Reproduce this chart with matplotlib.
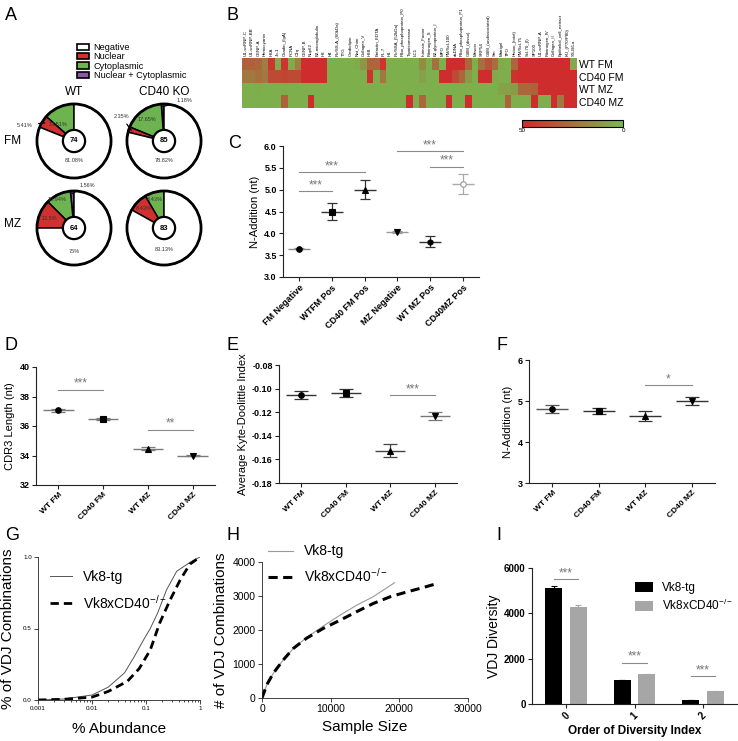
import numpy as np
import matplotlib
matplotlib.use('Agg')
import matplotlib.pyplot as plt
from matplotlib.colors import LinearSegmentedColormap
from matplotlib.patches import Patch, Circle

plt.rcParams['font.family'] = ['Liberation Sans', 'DejaVu Sans']

# ---------------- data ----------------
# A: localisation pies
pie_groups = ['WT FM', 'CD40 FM', 'WT MZ', 'CD40 MZ']
pie_n = [74, 85, 64, 83]
pct_neg = [81.08, 78.82, 75.0, 83.13]
pct_nuc = [5.41, 2.35, 12.5, 8.43]
pct_cyto = [13.51, 17.65, 10.94, 8.43]
pct_both = [0.0, 1.18, 1.56, 0.0]
loc_labels = ['Negative', 'Nuclear', 'Cytoplasmic', 'Nuclear + Cytoplasmic']

# B: heatmap
antigens = ['U1-snRNP-C', "U1-snRNP-BB'", 'CENP-A', 'Hemocyanin', 'H2A', 'Jo-1',
            'Gliadin_(IgA)', 'PCNA', 'C1q', 'CENP-B', 'Nup62', 'B2-microglobulin',
            'H3', 'H4', 'Ro/SS-A_(60kDa)', 'TTG', 'Cardiolipin', 'Nat_Chim',
            'Collagen_V', 'H2B', 'Entactin_EDTA', 'PL-7', 'H1', 'Ro/SSA_(52kDa)',
            'Ribo_phosphoprotein_P0', 'Topoisomerase', 'LC1', 'Intrinsic_Factor',
            'Fibrinogen_S', 'B2-glycoprotein_I', 'MPO', 'PM/Scl-100', 'dsDNA',
            'Ribo_phosphoprotein_P1', 'GBM_(disso)', 'Mesoin', 'SRP54',
            'GBM_(undissociated)', 'Sm', 'Matrigel', 'TPO', 'Histon_(total)',
            'PM/Scl-75', 'Scl-70_(I)', 'SP100', 'U1-snRNP-A', 'Fibrinogen_IV',
            'Collagen_II', 'Epithelial_cell_extract', 'KU_(P70/P80)', 'SS-B/La']
heat_rows = ['WT FM', 'CD40 FM', 'WT MZ', 'CD40 MZ']
wt_fm = [30, 30, 28, 20, 45, 5, 45, 5, 20, 48, 48, 48, 48, 3, 3, 3, 3, 5, 12, 28, 28, 45, 3, 3, 3,
         3, 3, 15, 3, 25, 3, 48, 48, 48, 28, 3, 25, 35, 25, 5, 3, 28, 48, 48, 48, 48, 48, 48, 48, 48, 5]
cd40_fm = [22, 22, 25, 22, 38, 38, 40, 38, 38, 48, 48, 48, 48, 3, 3, 3, 3, 3, 3, 46, 3, 22, 3, 3, 3,
           3, 3, 8, 3, 3, 48, 48, 38, 28, 10, 3, 48, 48, 5, 3, 3, 46, 48, 48, 48, 48, 48, 48, 48, 48, 48]
wt_mz = [3, 3, 4, 3, 3, 3, 4, 3, 3, 3, 3, 3, 3, 3, 3, 3, 3, 3, 3, 3, 3, 3, 3, 3, 3,
         3, 3, 3, 3, 3, 3, 3, 3, 3, 3, 3, 3, 3, 3, 8, 8, 10, 28, 28, 30, 48, 48, 48, 48, 48, 48]
cd40_mz = [3, 3, 3, 3, 3, 3, 30, 3, 3, 3, 48, 3, 3, 3, 3, 3, 3, 3, 3, 3, 3, 3, 3, 3, 3,
           48, 3, 28, 3, 3, 3, 48, 3, 3, 48, 3, 3, 3, 3, 3, 30, 3, 3, 3, 48, 3, 3, 48, 22, 48, 48]

# C: N-addition by localisation
c_cats = ['FM Negative', 'WTFM Pos', 'CD40 FM Pos', 'MZ Negative', 'WT MZ Pos', 'CD40MZ Pos']
c_mean = [3.65, 4.50, 5.00, 4.03, 3.81, 5.12]
c_err = [0.02, 0.20, 0.22, 0.02, 0.13, 0.23]
c_sig = [(0, 1, 4.97, '***'), (0, 2, 5.40, '***'), (3, 5, 5.88, '***'), (4, 5, 5.53, '***')]

# D-F
grp_cats = ['WT FM', 'CD40 FM', 'WT MZ', 'CD40 MZ']
d_mean = [37.08, 36.48, 34.45, 34.00]
d_err = [0.10, 0.06, 0.10, 0.05]
d_sig = [(0, 1, 38.45, '***'), (2, 3, 35.75, '**')]
e_mean = [-0.1055, -0.1040, -0.1525, -0.1235]
e_err = [0.0035, 0.0035, 0.0055, 0.0035]
e_sig = [(2, 3, -0.1055, '***')]
f_mean = [4.80, 4.76, 4.63, 5.00]
f_err = [0.10, 0.07, 0.12, 0.09]
f_sig = [(2, 3, 5.38, '*')]

# G: cumulative abundance
g_x_tg = [0.001, 0.003, 0.01, 0.02, 0.04, 0.06, 0.09, 0.1, 0.12, 0.165, 0.24, 0.37, 0.7, 1.0]
g_y_tg = [0.0, 0.007, 0.035, 0.09, 0.19, 0.30, 0.42, 0.45, 0.50, 0.61, 0.77, 0.90, 0.97, 1.0]
g_x_ko = [0.001, 0.003, 0.01, 0.02, 0.045, 0.075, 0.12, 0.18, 0.28, 0.43, 0.65, 1.0]
g_y_ko = [0.0, 0.005, 0.02, 0.06, 0.13, 0.22, 0.35, 0.54, 0.70, 0.84, 0.95, 1.0]

# H: rarefaction
h_x_tg = [0, 700, 1650, 3100, 4570, 6500, 8950, 11400, 13800, 16200, 19300]
h_y_tg = [0, 390, 730, 1120, 1460, 1780, 2120, 2440, 2730, 2980, 3390]
h_x_ko = [0, 700, 1650, 3100, 4570, 6500, 8950, 11400, 13800, 16200, 18700, 21100, 23500, 25200]
h_y_ko = [0, 390, 730, 1120, 1460, 1760, 2050, 2290, 2540, 2780, 2980, 3120, 3250, 3350]

# I: diversity
div_order = ['0', '1', '2']
div_tg = [5120, 1060, 190]
div_tg_err = [100, 0, 0]
div_ko = [4300, 1330, 570]
div_ko_err = [70, 15, 0]
div_sig = [5500, 1820, 1235]

series = ['Vk8-tg', r'Vk8xCD40$^{\mathregular{-/-}}$']

# ---------------- figure ----------------
W, H = 738, 741
fig = plt.figure(figsize=(W / 100, H / 100), dpi=100)


def add_ax(x0, y0, x1, y1):
    return fig.add_axes([x0 / W, 1 - y1 / H, (x1 - x0) / W, (y1 - y0) / H])


def ftext(x, y, s, **kw):
    fig.text(x / W, 1 - y / H, s, **kw)


def style_axis(ax, lw=0.8):
    for s in ['top', 'right']:
        ax.spines[s].set_visible(False)
    for s in ['left', 'bottom']:
        ax.spines[s].set_linewidth(lw)
        ax.spines[s].set_color('#222222')
    ax.tick_params(length=3, width=lw, color='#222222', pad=1.5)


def stars(ax, x, y, s):
    ax.text(x, y, s, ha='center', va='bottom', fontsize=8.5, color='#777777')


for lab, x, y in [('A', 5, 16), ('B', 227, 16), ('C', 228, 144), ('D', 5, 346), ('E', 226, 346),
                  ('F', 496, 346), ('G', 5, 536), ('H', 226, 536), ('I', 496, 536)]:
    ftext(x, y, lab, fontsize=13, va='center', ha='left')

# ---- A ----
pie_colors = {'Negative': 'white', 'Nuclear': '#d2302e', 'Cytoplasmic': '#6db450',
              'Nuclear + Cytoplasmic': '#8e5aa8'}
fig.legend(handles=[Patch(facecolor=pie_colors[l], edgecolor='black', lw=1.2, label=l) for l in loc_labels],
           loc='upper left', bbox_to_anchor=(77 / W, 1 - 43 / H), frameon=False, fontsize=6.6,
           handlelength=1.3, handleheight=0.7, labelspacing=0.05, handletextpad=0.5,
           borderpad=0, borderaxespad=0)

pie_centers = [(74, 141), (164, 141), (74, 228), (164, 228)]
pie_label_pos = [
    {'Negative': (0, -0.52), 'Cytoplasmic': (-0.42, 0.45), 'Nuclear': (-1.32, 0.43)},
    {'Negative': (0, -0.54), 'Cytoplasmic': (-0.47, 0.59), 'Nuclear': (-1.15, 0.66),
     'Nuclear + Cytoplasmic': (0.55, 1.08)},
    {'Negative': (0, -0.63), 'Cytoplasmic': (-0.45, 0.78), 'Nuclear': (-0.67, 0.27),
     'Nuclear + Cytoplasmic': (0.35, 1.15)},
    {'Negative': (0, -0.59), 'Cytoplasmic': (-0.25, 0.78), 'Nuclear': (-0.56, 0.54)},
]
leader = {'WT FM': ['Nuclear'], 'CD40 FM': ['Nuclear', 'Nuclear + Cytoplasmic'],
          'WT MZ': ['Nuclear + Cytoplasmic'], 'CD40 MZ': []}

for k, g in enumerate(pie_groups):
    cx, cy = pie_centers[k]
    ax = add_ax(cx - 50, cy - 50, cx + 50, cy + 50)
    vals = {'Nuclear + Cytoplasmic': pct_both[k], 'Cytoplasmic': pct_cyto[k],
            'Nuclear': pct_nuc[k], 'Negative': pct_neg[k]}
    names = [n for n in vals if vals[n] > 0]
    wedges, _ = ax.pie([vals[n] for n in names], colors=[pie_colors[n] for n in names],
                       startangle=90, counterclock=True,
                       wedgeprops=dict(edgecolor='black', linewidth=1.1))
    ax.add_patch(Circle((0, 0), 1, fill=False, lw=2, ec='black'))
    ax.add_patch(Circle((0, 0), 0.3, fc='white', lw=1.6, ec='black', zorder=5))
    ax.text(0, 0, str(pie_n[k]), ha='center', va='center', fontsize=5.5, fontweight='bold', zorder=6)
    for n, w in zip(names, wedges):
        tx, ty = pie_label_pos[k][n]
        s = f'{vals[n]:g}%'
        if n in leader[g]:
            th = np.deg2rad((w.theta1 + w.theta2) / 2)
            ax.annotate(s, xy=(0.93 * np.cos(th), 0.93 * np.sin(th)), xytext=(tx, ty),
                        ha='center', va='center', fontsize=4, color='#333333',
                        arrowprops=dict(arrowstyle='-', lw=0.9, color='black', shrinkA=2, shrinkB=0))
        else:
            ax.text(tx, ty, s, ha='center', va='center', fontsize=4, color='#333333')
    ax.set_xlim(-1.35, 1.35)
    ax.set_ylim(-1.35, 1.35)
    ax.axis('off')

ftext(74, 92, 'WT', fontsize=8.5, ha='center', va='center')
ftext(164, 92, 'CD40 KO', fontsize=8.5, ha='center', va='center')
ftext(4, 141, 'FM', fontsize=8.5, ha='left', va='center')
ftext(4, 224, 'MZ', fontsize=8.5, ha='left', va='center')

# ---- B ----
cmap = LinearSegmentedColormap.from_list('gr', ['#78b94f', '#d3282c'])
axb = add_ax(242, 58, 577, 108)
mat = np.array([wt_fm, cd40_fm, wt_mz, cd40_mz])
im = axb.imshow(mat, cmap=cmap, vmin=0, vmax=50, aspect='auto', interpolation='nearest')
axb.set_xticks(range(len(antigens)), antigens, rotation=90, fontsize=3.2)
axb.xaxis.tick_top()
axb.set_yticks(range(len(heat_rows)), heat_rows, fontsize=7.5)
axb.yaxis.tick_right()
axb.tick_params(length=0, pad=1.5)
for s in axb.spines.values():
    s.set_visible(False)

axcb = add_ax(522, 120, 623, 127)
cb = fig.colorbar(im, cax=axcb, orientation='horizontal')
axcb.invert_xaxis()
cb.set_ticks([50, 0])
cb.ax.tick_params(labelsize=4.5, length=0, pad=1)
cb.outline.set_linewidth(0.8)


# ---- C-F ----
def dot_panel(ax, cats, means, errs, markers, lcolors, sigs, ylim, yticks, ylabel, capsize,
              tickfmt, mfc=None, mec=None, tsize=6.5, xsize=6):
    xs = np.arange(len(cats))
    mfc = mfc or ['black'] * len(cats)
    mec = mec or ['black'] * len(cats)
    for x, m, e, mk, lc, fc, ec in zip(xs, means, errs, markers, lcolors, mfc, mec):
        ax.errorbar(x, m, yerr=e, fmt='none', ecolor=lc, elinewidth=0.9, capsize=capsize, capthick=0.9)
        ax.hlines(m, x - 0.34, x + 0.34, color=lc, lw=1.0)
        ax.plot(x, m, marker=mk, mfc=fc, mec=ec, ms=4, ls='none', mew=0.8)
    for i, j, y, s in sigs:
        ax.plot([i, j], [y, y], color='#8a8a8a', lw=0.8)
        stars(ax, (i + j) / 2, y, s)
    ax.set_xlim(-0.5, len(cats) - 0.5)
    ax.set_ylim(*ylim)
    ax.set_yticks(yticks, [tickfmt.format(t) for t in yticks], fontsize=tsize, fontweight='bold')
    ax.set_xticks(xs, cats, rotation=45, ha='right', rotation_mode='anchor', fontsize=xsize,
                  fontweight='bold')
    ax.set_ylabel(ylabel, fontsize=8, labelpad=3)
    style_axis(ax)


axc = add_ax(283, 146, 479, 277)
dot_panel(axc, c_cats, c_mean, c_err, ['o', 's', '^', 'v', 'h', 'o'],
          ['#8c8c8c', '#333333', '#333333', '#9a9a9a', '#333333', '#aaaaaa'], c_sig,
          (3.0, 6.0), np.arange(3.0, 6.01, 0.5), 'N-Addition (nt)', 3.5, '{:.1f}',
          mfc=['black'] * 5 + ['white'], mec=['black'] * 5 + ['#999999'], xsize=6.5)

axd = add_ax(36, 367, 215, 485)
dot_panel(axd, grp_cats, d_mean, d_err, ['o', 's', '^', 'v'], ['#7a7a7a'] * 4, d_sig,
          (32, 40), [32, 34, 36, 38, 40], 'CDR3 Length (nt)', 5, '{:.0f}')

axe = add_ax(279, 365, 457, 483)
dot_panel(axe, grp_cats, e_mean, e_err, ['o', 's', '^', 'v'],
          ['#333333', '#333333', '#444444', '#777777'], e_sig,
          (-0.18, -0.08), [-0.18, -0.16, -0.14, -0.12, -0.10, -0.08],
          'Average Kyte-Doolittle Index', 5, '{:.2f}')

axf = add_ax(529, 360, 715, 483)
dot_panel(axf, grp_cats, f_mean, f_err, ['o', 's', '^', 'v'],
          ['#555555', '#333333', '#333333', '#333333'], f_sig,
          (3, 6), [3, 4, 5, 6], 'N-Addition (nt)', 5, '{:.0f}')

# ---- G ----
axg = add_ax(38, 557, 200, 700)
axg.plot(g_x_tg, g_y_tg, color='#555555', lw=0.7, label=series[0])
axg.plot(g_x_ko, g_y_ko, color='black', lw=2.0, ls=(0, (3, 1.8)), label=series[1])
axg.set_xscale('log')
axg.set_xlim(0.001, 1)
axg.set_ylim(0, 1)
axg.set_xticks([0.001, 0.01, 0.1, 1], ['0.001', '0.01', '0.1', '1'], fontsize=4.5)
axg.set_yticks([0, 0.5, 1.0], ['0.0', '0.5', '1.0'], fontsize=4.5)
axg.set_xlabel('% Abundance', fontsize=11, labelpad=8)
axg.set_ylabel('% of VDJ Combinations', fontsize=11, labelpad=6)
style_axis(axg, 0.6)
axg.tick_params(which='minor', length=1.5, width=0.5)
axg.legend(loc='upper left', bbox_to_anchor=(0.04, 0.95), frameon=False, fontsize=10,
           handlelength=1.6, labelspacing=0.7, borderaxespad=0)

# ---- H ----
axh = add_ax(262, 562, 468, 698)
axh.plot(h_x_tg, h_y_tg, color='#999999', lw=0.8, label=series[0])
axh.plot(h_x_ko, h_y_ko, color='black', lw=2.2, ls=(0, (3, 1.8)), label=series[1])
axh.set_xlim(0, 30000)
axh.set_ylim(0, 4000)
axh.set_xticks([0, 10000, 20000, 30000])
axh.set_yticks([0, 1000, 2000, 3000, 4000])
axh.tick_params(labelsize=7.5)
axh.set_xlabel('Sample Size', fontsize=11, labelpad=4)
axh.set_ylabel('# of VDJ Combinations', fontsize=11, labelpad=3)
style_axis(axh, 0.6)
axh.legend(loc='upper left', bbox_to_anchor=(0.0, 1.17), frameon=False, fontsize=10,
           handlelength=1.8, labelspacing=0.6, borderaxespad=0)

# ---- I ----
axi = add_ax(532, 568, 737, 704)
xi = np.arange(len(div_order))
axi.bar(xi - 0.18, div_tg, 0.25, yerr=div_tg_err, color='black', ecolor='black',
        error_kw=dict(capsize=2.5, elinewidth=0.8, capthick=0.8), label=series[0])
axi.bar(xi + 0.18, div_ko, 0.25, yerr=div_ko_err, color='#a6a6a6', ecolor='#a6a6a6',
        error_kw=dict(capsize=2.5, elinewidth=0.8, capthick=0.8), label=series[1])
for x, y in zip(xi, div_sig):
    axi.plot([x - 0.18, x + 0.18], [y, y], color='#8a8a8a', lw=0.8)
    stars(axi, x, y, '***')
axi.set_xlim(-0.5, 2.5)
axi.set_ylim(0, 6000)
axi.set_yticks([0, 2000, 4000, 6000], ['0', '2000', '4000', '6000'], fontsize=7, fontweight='bold')
axi.set_xticks(xi, div_order, rotation=45, fontsize=7, fontweight='bold')
axi.set_xlabel('Order of Diversity Index', fontsize=8.5, fontweight='bold', labelpad=3)
axi.set_ylabel('VDJ Diversity', fontsize=10, labelpad=2)
style_axis(axi)
axi.legend(loc='upper left', bbox_to_anchor=(0.48, 0.93), frameon=False, fontsize=8.5,
           handlelength=1.5, handleheight=0.9, labelspacing=0.3, borderaxespad=0)

fig.savefig('out.png', dpi=100)
